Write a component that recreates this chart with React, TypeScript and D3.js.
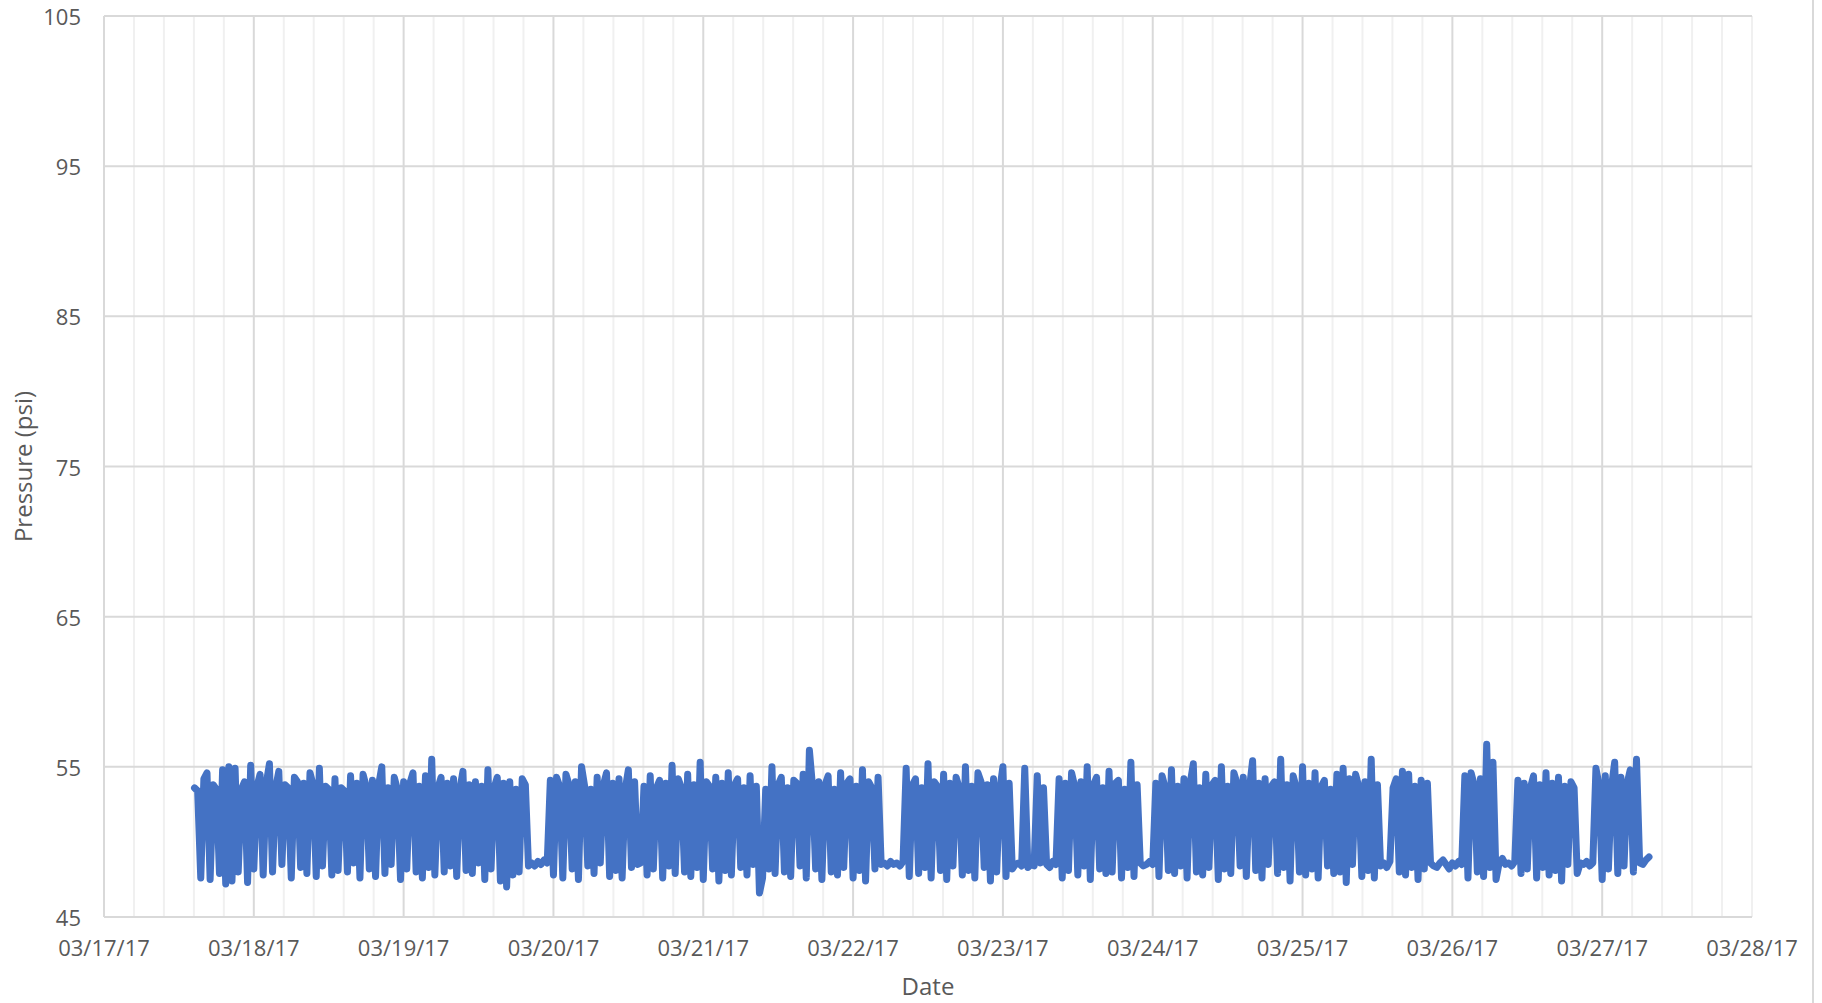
import React from "react";
import * as d3 from "d3";

// Sampling: first reading on 03/17/17 14:30 (UTC), then one reading every 30 minutes
const startTimeIso = "2017-03-17T14:30:00Z";
const intervalMinutes = 30;

// Pressure readings (psi)
const pressure: number[] = [
  53.6, 53.4, 47.6, 54.2, 54.6, 47.5, 53.8, 53.5, 47.9, 54.8, 47.2, 55.0, 47.4, 54.9, 48.0, 53.5, 54.0, 47.3, 55.1, 48.2, 53.7, 54.5, 47.8, 53.9,
  55.2, 48.0, 53.6, 54.7, 48.5, 53.8, 53.6, 47.6, 54.3, 54.0, 48.3, 53.9, 47.9, 54.6, 53.8, 47.7, 54.9, 48.4, 53.7, 53.5, 47.8, 54.2, 48.1, 53.6,
  53.4, 48.0, 54.4, 48.6, 53.9, 47.6, 54.5, 53.7, 48.2, 54.1, 47.7, 53.8, 55.0, 47.9, 53.6, 48.5, 54.3, 53.5, 47.5, 54.0, 48.2, 53.9, 54.6, 48.0,
  53.7, 47.6, 54.4, 48.3, 55.5, 47.8, 53.6, 54.3, 48.0, 53.9, 48.4, 54.2, 47.7, 53.5, 54.7, 48.1, 53.8, 47.9, 54.0, 48.6, 53.7, 47.5, 54.8, 48.2,
  53.6, 54.3, 47.4, 53.9, 47.0, 54.0, 47.8, 53.5, 48.0, 54.2, 53.8, 48.4, 48.6, 48.4, 48.7, 48.5, 48.8, 48.6, 54.1, 47.8, 54.3, 53.7, 47.6, 54.5,
  53.8, 48.2, 54.0, 47.5, 55.0, 53.7, 48.4, 53.5, 47.9, 54.3, 48.6, 53.8, 54.6, 47.7, 53.9, 48.1, 54.2, 47.6, 53.5, 54.8, 48.3, 54.0, 48.5, 48.6,
  53.7, 47.8, 54.4, 48.2, 53.6, 54.1, 47.6, 53.9, 48.4, 55.1, 47.9, 54.2, 53.6, 48.0, 54.5, 47.7, 53.8, 48.3, 55.3, 47.5, 54.0, 53.7, 48.2, 54.3,
  47.4, 53.9, 48.1, 54.6, 47.8, 53.8, 54.2, 48.3, 53.6, 47.8, 54.4, 48.5, 53.7, 46.6, 47.6, 53.5, 48.2, 55.0, 47.9, 53.8, 54.3, 48.0, 53.6, 47.7,
  54.1, 53.9, 48.4, 54.5, 47.6, 56.1, 53.7, 48.2, 54.0, 47.5, 53.8, 54.4, 48.0, 53.5, 47.8, 54.6, 48.3, 53.9, 54.2, 47.6, 53.7, 48.1, 54.8, 47.4,
  54.0, 53.6, 48.2, 54.3, 48.5, 48.6, 48.4, 48.7, 48.5, 48.6, 48.4, 48.7, 54.9, 47.7, 53.8, 54.2, 47.9, 53.6, 48.3, 55.2, 47.6, 54.0, 53.7, 48.1,
  54.5, 47.5, 53.9, 48.4, 54.3, 53.6, 47.8, 55.0, 48.1, 53.7, 47.6, 54.6, 54.0, 48.3, 53.8, 47.4, 54.2, 48.0, 53.5, 55.0, 47.7, 53.9, 48.2, 48.5,
  48.6, 48.4, 54.9, 48.3, 48.5, 48.4, 54.4, 48.6, 53.6, 48.5, 48.3, 48.7, 48.5, 54.2, 47.6, 53.9, 48.1, 54.6, 53.7, 47.8, 54.0, 48.4, 55.0, 47.5,
  53.8, 54.3, 48.2, 53.6, 47.9, 54.7, 48.0, 53.9, 54.1, 47.6, 53.5, 48.3, 55.3, 47.7, 53.8, 48.6, 48.4, 48.5, 48.7, 48.5, 53.9, 47.7, 54.4, 53.6,
  48.1, 54.8, 47.9, 53.7, 48.4, 54.2, 47.6, 53.9, 55.2, 48.0, 53.6, 47.8, 54.5, 48.3, 53.8, 54.1, 47.5, 55.0, 48.2, 53.7, 47.9, 54.6, 53.9, 48.4,
  54.3, 47.7, 53.6, 55.4, 48.1, 53.9, 47.6, 54.2, 48.5, 53.7, 54.0, 47.9, 55.5, 48.3, 53.8, 47.4, 54.4, 53.6, 48.0, 55.0, 47.8, 53.9, 48.2, 54.6,
  47.6, 53.7, 54.1, 48.4, 53.5, 47.9, 54.5, 48.0, 54.9, 47.3, 54.2, 48.5, 54.5, 53.7, 47.7, 54.0, 48.1, 55.5, 47.6, 53.8, 48.4, 48.6, 48.3, 48.7,
  53.6, 54.2, 48.0, 54.7, 47.8, 54.5, 48.3, 53.7, 47.5, 54.1, 48.2, 53.9, 48.6, 48.4, 48.3, 48.6, 48.8, 48.5, 48.2, 48.6, 48.4, 48.7, 48.5, 54.4,
  47.6, 54.6, 53.8, 48.0, 54.2, 47.7, 56.5, 48.3, 55.3, 47.5, 48.6, 48.9, 48.5, 48.6, 48.4, 48.7, 54.1, 47.9, 53.9, 48.2, 53.6, 54.4, 47.6, 53.8,
  48.3, 54.6, 47.8, 53.9, 48.1, 54.3, 47.4, 53.7, 48.5, 54.0, 53.6, 47.9, 48.6, 48.5, 48.7, 48.4, 48.6, 54.9, 53.8, 47.5, 54.4, 48.2, 53.7, 55.3,
  47.9, 54.3, 48.4, 53.9, 54.8, 48.0, 55.5, 48.6, 48.5, 48.8, 49.0,
];

const yTickValues = [45, 55, 65, 75, 85, 95, 105];
const xTickDates = [
  "2017-03-17", "2017-03-18", "2017-03-19", "2017-03-20", "2017-03-21", "2017-03-22",
  "2017-03-23", "2017-03-24", "2017-03-25", "2017-03-26", "2017-03-27", "2017-03-28",
];
const minorPerDay = 5;

const W = 1822;
const H = 1003;
const plot = { left: 104, right: 1752, top: 16, bottom: 917 };
const FONT = "'Open Sans', 'Noto Sans', sans-serif";
const TEXT = "#595959";

export default function App() {
  const start = new Date(startTimeIso).getTime();
  const data = pressure.map((v, i) => ({ t: new Date(start + i * intervalMinutes * 60000), v }));
  const dayDates = xTickDates.map((s) => new Date(s + "T00:00:00Z"));

  const x = d3.scaleUtc().domain([dayDates[0], dayDates[dayDates.length - 1]]).range([plot.left, plot.right]);
  const y = d3.scaleLinear().domain([45, 105]).range([plot.bottom, plot.top]);
  const fmt = d3.utcFormat("%m/%d/%y");

  const line = d3
    .line<{ t: Date; v: number }>()
    .x((d) => x(d.t))
    .y((d) => y(d.v));

  const minorDates: Date[] = [];
  for (let d = 0; d < dayDates.length - 1; d++) {
    for (let k = 1; k < minorPerDay; k++) {
      minorDates.push(new Date(dayDates[d].getTime() + (k * 86400000) / minorPerDay));
    }
  }
  minorDates.push(new Date(dayDates[dayDates.length - 1].getTime()));

  return (
    <svg
      width={W}
      height={H}
      style={{ position: "fixed", left: 0, top: 0, background: "#fff" }}
      fontFamily={FONT}
    >
      <rect x={0} y={0} width={W} height={H} fill="#fff" />
      {/* minor vertical gridlines */}
      {minorDates.map((d, i) => (
        <line key={"m" + i} x1={x(d)} x2={x(d)} y1={plot.top} y2={plot.bottom} stroke="#f0f0f0" strokeWidth={2} />
      ))}
      {/* major vertical gridlines */}
      {dayDates.slice(0, -1).map((d, i) => (
        <line key={"M" + i} x1={x(d)} x2={x(d)} y1={plot.top} y2={plot.bottom} stroke="#d9d9d9" strokeWidth={2} />
      ))}
      {/* horizontal gridlines */}
      {yTickValues.map((v) => (
        <line key={"h" + v} x1={plot.left} x2={plot.right} y1={y(v)} y2={y(v)} stroke="#d9d9d9" strokeWidth={2} />
      ))}
      {/* right chart border */}
      <line x1={1813} x2={1813} y1={0} y2={H} stroke="#d9d9d9" strokeWidth={2} />

      {/* data line */}
      <path
        d={line(data) || ""}
        fill="none"
        stroke="#4472C4"
        strokeWidth={7}
        strokeLinejoin="round"
        strokeLinecap="round"
      />

      {/* y tick labels */}
      {yTickValues.map((v) => (
        <text key={"yl" + v} x={81} y={y(v)} textAnchor="end" dominantBaseline="central" fontSize={22} fill={TEXT}>
          {v}
        </text>
      ))}
      {/* x tick labels */}
      {dayDates.map((d, i) => (
        <text key={"xl" + i} x={x(d)} y={956} textAnchor="middle" fontSize={22} fill={TEXT}>
          {fmt(d)}
        </text>
      ))}
      {/* axis titles */}
      <text x={(plot.left + plot.right) / 2} y={995} textAnchor="middle" fontSize={24} fill={TEXT}>
        Date
      </text>
      <text
        transform={`translate(22, ${(plot.top + plot.bottom) / 2}) rotate(-90)`}
        textAnchor="middle"
        dominantBaseline="central"
        fontSize={24}
        fill={TEXT}
      >
        Pressure (psi)
      </text>
    </svg>
  );
}
